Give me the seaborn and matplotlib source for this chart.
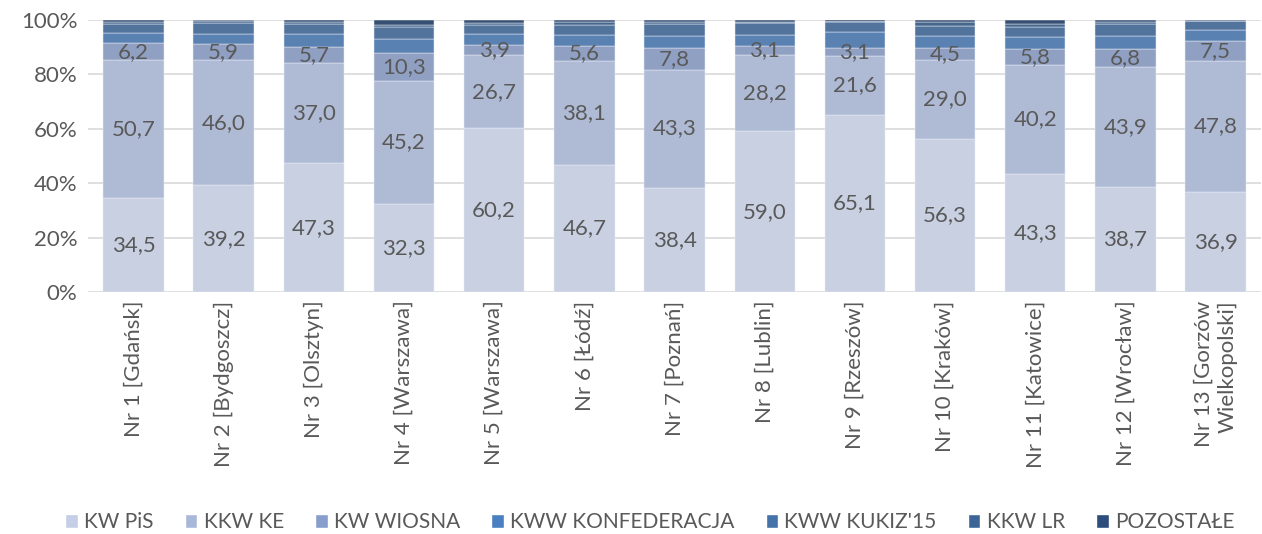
import seaborn as sns
import pandas as pd
import matplotlib.pyplot as plt
from matplotlib.patches import Patch

# okręgi wyborcze
okregi = ['Nr 1 [Gdańsk]', 'Nr 2 [Bydgoszcz]', 'Nr 3 [Olsztyn]', 'Nr 4 [Warszawa]',
          'Nr 5 [Warszawa]', 'Nr 6 [Łódź]', 'Nr 7 [Poznań]', 'Nr 8 [Lublin]',
          'Nr 9 [Rzeszów]', 'Nr 10 [Kraków]', 'Nr 11 [Katowice]', 'Nr 12 [Wrocław]',
          'Nr 13 [Gorzów\nWielkopolski]']

# wyniki w procentach
pis = [34.5, 39.2, 47.3, 32.3, 60.2, 46.7, 38.4, 59.0, 65.1, 56.3, 43.3, 38.7, 36.9]
ke = [50.7, 46.0, 37.0, 45.2, 26.7, 38.1, 43.3, 28.2, 21.6, 29.0, 40.2, 43.9, 47.8]
wiosna = [6.2, 5.9, 5.7, 10.3, 3.9, 5.6, 7.8, 3.1, 3.1, 4.5, 5.8, 6.8, 7.5]
konfederacja = [3.9, 3.6, 4.6, 5.0, 3.9, 4.0, 4.7, 4.1, 5.7, 4.3, 4.4, 4.7, 3.9]
kukiz = [3.3, 4.2, 3.7, 4.7, 3.4, 3.8, 4.3, 4.3, 3.6, 3.6, 3.7, 4.3, 3.3]
lr = [0.7, 0.6, 0.7, 0.7, 0.6, 0.9, 0.8, 0.5, 0.5, 1.5, 1.2, 0.7, 0.3]
pozostale = [0.7, 0.5, 1.0, 1.8, 1.2, 0.9, 0.7, 0.8, 0.5, 0.8, 1.4, 0.9, 0.3]

komitety = ['KW PiS', 'KKW KE', 'KW WIOSNA', 'KWW KONFEDERACJA', "KWW KUKIZ'15", 'KKW LR', 'POZOSTAŁE']
serie = [pis, ke, wiosna, konfederacja, kukiz, lr, pozostale]
kolory = ['#C4CEE6', '#A9B8DA', '#879DCB', '#4A7FC1', '#4572A8', '#3C6597', '#2D4D7C']

sns.set_style('white')
plt.rcParams['font.family'] = ['Lato', 'DejaVu Sans']
szary = '#595959'

fig = plt.figure(figsize=(12.62, 5.34), dpi=100)
ax = fig.add_axes([0.07, 0.453, 0.929, 0.51])

dol = [0.0] * len(okregi)
etykiety = []
for i, (nazwa, wart, kolor) in enumerate(zip(komitety, serie, kolory)):
    df = pd.DataFrame({'okreg': okregi, 'proc': wart})
    sns.barplot(data=df, x='okreg', y='proc', color=kolor, bottom=dol, width=0.67,
                edgecolor='#E8ECF5', linewidth=0.35, ax=ax, zorder=3)
    if i < 3:
        teksty = ax.bar_label(ax.containers[-1],
                              labels=[f'{v:.1f}'.replace('.', ',') for v in wart],
                              label_type='center', color=szary, fontsize=16)
        etykiety.extend(teksty)
    dol = [a + b for a, b in zip(dol, wart)]

for t in etykiety:
    t.set_zorder(10)

ax.set_ylim(0, 100)
ax.set_xlim(-0.5, len(okregi) - 0.5)
ax.set_yticks(range(0, 101, 20))
ax.set_yticklabels([f'{t}%' for t in range(0, 101, 20)])
ax.yaxis.grid(True, color='#D9D9D9', linewidth=1.2, zorder=0)
ax.set_axisbelow(True)
for s in ax.spines.values():
    s.set_visible(False)
ax.set_xlabel('')
ax.set_ylabel('')
ax.tick_params(axis='y', labelsize=16, labelcolor=szary, length=0, pad=8)
ax.tick_params(axis='x', labelsize=16, labelcolor=szary, length=0, pad=6)
for lab in ax.get_xticklabels():
    lab.set_rotation(90)
    lab.set_multialignment('right')

uchwyty = [Patch(facecolor=k, label=n) for n, k in zip(komitety, kolory)]
fig.legend(handles=uchwyty, loc='center', bbox_to_anchor=(0.515, 0.022), ncol=7,
           frameon=False, fontsize=15, labelcolor=szary, handlelength=0.6, handleheight=0.6,
           handletextpad=0.3, columnspacing=1.5)

fig.savefig('out.png', dpi=100)
